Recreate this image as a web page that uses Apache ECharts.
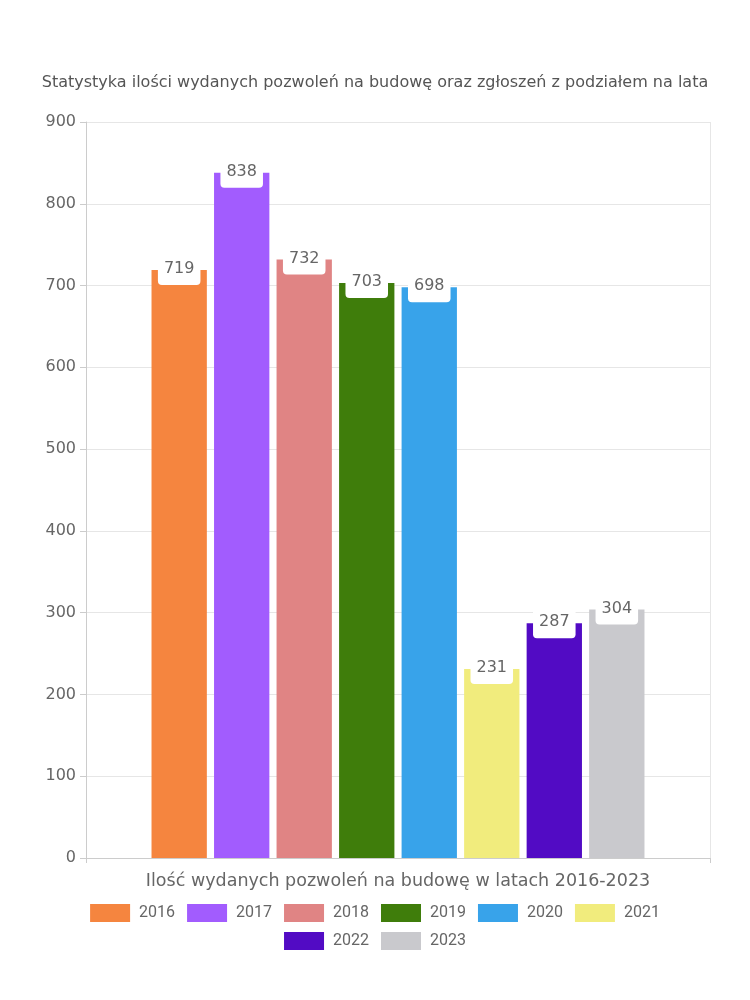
<!DOCTYPE html>
<html>
<head>
<meta charset="utf-8">
<script src="https://cdn.jsdelivr.net/npm/echarts@6/dist/echarts.min.js"></script>
<style>html,body{margin:0;padding:0;background:#fff}#c{width:750px;height:1000px}</style>
</head>
<body>
<div id="c"></div>
<script>
const years = ['2016','2017','2018','2019','2020','2021','2022','2023'];
const values = [719, 838, 732, 703, 698, 231, 287, 304];
const colors = ['#F5853F','#A25CFE','#E08484','#3F7D0B','#38A3EA','#F1EC7D','#520BC4','#C9C9CD'];
const categories = [''];
const yTicks = {min: 0, max: 900, interval: 100};
const titleText = 'Statystyka ilości wydanych pozwoleń na budowę oraz zgłoszeń z podziałem na lata';
const xName = 'Ilość wydanych pozwoleń na budowę w latach 2016-2023';

const font = '"DejaVu Sans", sans-serif';
const legendBase = {
  left: 'center', icon: 'rect',
  itemWidth: 40, itemHeight: 18, itemGap: 12,
  textStyle: {fontFamily: 'Roboto, sans-serif', fontSize: 16, color: '#666', padding: [0, 0, 0, 4]}
};
const chart = echarts.init(document.getElementById('c'));
chart.setOption({
  animation: false,
  textStyle: {fontFamily: font},
  title: {
    text: titleText, left: 'center', top: 70,
    textStyle: {fontFamily: font, fontSize: 16, fontWeight: 'normal', color: '#555'}
  },
  legend: [
    Object.assign({}, legendBase, {top: 899, data: years.slice(0, 6)}),
    Object.assign({}, legendBase, {top: 927, data: years.slice(6)})
  ],
  grid: {left: 86, right: 40, top: 122, bottom: 142},
  xAxis: {
    type: 'category', data: categories,
    name: xName, nameLocation: 'middle', nameGap: 14,
    nameTextStyle: {fontFamily: font, fontSize: 17.5, color: '#666'},
    axisLabel: {show: false},
    axisLine: {lineStyle: {color: '#ccc'}},
    axisTick: {show: true, length: 5, lineStyle: {color: '#ccc'}},
    splitLine: {show: true, lineStyle: {color: '#e6e6e6'}}
  },
  yAxis: {
    type: 'value', min: yTicks.min, max: yTicks.max, interval: yTicks.interval,
    axisLine: {show: true, lineStyle: {color: '#ccc'}},
    axisTick: {show: true, length: 6, lineStyle: {color: '#ccc'}},
    axisLabel: {fontFamily: font, fontSize: 16, color: '#666', margin: 10},
    splitLine: {lineStyle: {color: '#e6e6e6'}}
  },
  series: years.map((y, i) => ({
    name: y, type: 'bar', data: [values[i]],
    barGap: '13%', barCategoryGap: '21%',
    itemStyle: {color: colors[i]},
    label: {
      show: true, position: 'insideTop', distance: -16,
      backgroundColor: '#fff', borderRadius: 4,
      padding: [7, 6, 8, 6],
      fontFamily: font, fontSize: 16, color: '#666'
    }
  }))
});
</script>
</body>
</html>
